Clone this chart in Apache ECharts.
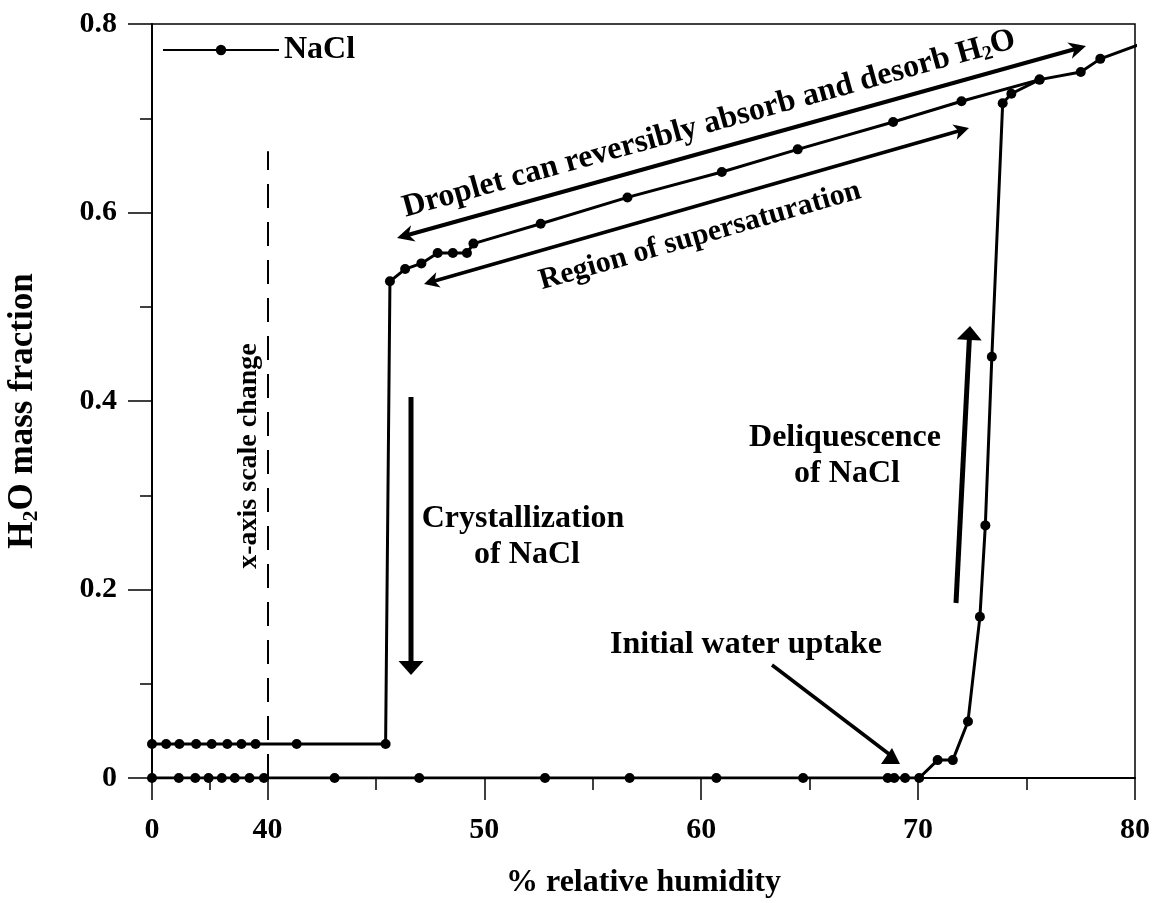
<!DOCTYPE html>
<html>
<head>
<meta charset="utf-8">
<script src="https://cdn.jsdelivr.net/npm/echarts@6/dist/echarts.min.js"></script>
<style>html,body{margin:0;padding:0;background:#fff}#c{width:1168px;height:903px}</style>
</head>
<body>
<div id="c"></div>
<script>
// ---- data ----
// Deliquescence branch (increasing RH)
const deliqRH  = [0, 9.3, 15.0, 19.6, 24.2, 28.7, 33.8, 38.8, 43.1, 47.0, 52.8, 56.7, 60.7, 64.7, 68.6, 68.9, 69.4, 70.05, 70.9, 71.6, 72.3, 72.85, 73.1, 73.4, 73.9, 74.3, 75.6, 77.5, 78.4, 81.0];
const deliqH2O = [0, 0, 0, 0, 0, 0, 0, 0, 0, 0, 0, 0, 0, 0, 0, 0, 0, 0, 0.019, 0.019, 0.060, 0.171, 0.268, 0.447, 0.716, 0.726, 0.741, 0.749, 0.763, 0.785];
// Efflorescence branch (decreasing RH)
const efflRH  = [75.6, 72.0, 68.85, 64.45, 60.95, 56.6, 52.6, 49.5, 49.2, 48.55, 47.85, 47.1, 46.35, 45.65, 45.45, 41.35, 35.9, 31.0, 26.1, 20.7, 15.3, 9.5, 4.9, 0];
const efflH2O = [0.741, 0.718, 0.696, 0.667, 0.643, 0.616, 0.588, 0.567, 0.557, 0.557, 0.557, 0.546, 0.540, 0.527, 0.036, 0.036, 0.036, 0.036, 0.036, 0.036, 0.036, 0.036, 0.036, 0.036];
const seriesName = 'NaCl';
const xMajorTicks = [0, 40, 50, 60, 70, 80];
const xMinorTicks = [20, 45, 55, 65, 75];
const yMin = 0, yMax = 0.8, yInterval = 0.2;
const scaleChangeRH = 40;
const scaleChangeTop = 0.665;

// ---- piecewise x scale: 0-40 compressed, 40-80 linear ----
const LOW_SPAN = 5.32;
function toAxis(rh) { return rh <= scaleChangeRH ? rh * LOW_SPAN / scaleChangeRH : LOW_SPAN + (rh - scaleChangeRH); }
const X_MIN = toAxis(0), X_MAX = toAxis(80);

const FONT = "'Liberation Serif','Times New Roman',serif";
const chart = echarts.init(document.getElementById('c'), null, {renderer: 'canvas'});

function seriesData(xs, ys) { return xs.map((r, i) => [toAxis(r), ys[i]]); }
const lineSeries = (data, extra) => Object.assign({
  name: seriesName, type: 'line', data: data,
  symbol: 'circle', symbolSize: 10, showAllSymbol: true,
  lineStyle: {color: '#000', width: 3}, itemStyle: {color: '#000'},
  clip: true, animation: false, emphasis: {disabled: true}
}, extra || {});

// ---- annotation helpers ----
function head(tx, ty, ux, uy, L, W, notch) {
  const px = -uy, py = ux;
  const bx = tx - ux * L, by = ty - uy * L;
  const nx = tx - ux * (L - notch), ny = ty - uy * (L - notch);
  return {type: 'polygon', shape: {points: [[tx, ty], [bx + px * W, by + py * W], [nx, ny], [bx - px * W, by - py * W]]}, style: {fill: '#000'}};
}
function arrow(x1, y1, x2, y2, o) {
  const dx = x2 - x1, dy = y2 - y1, len = Math.hypot(dx, dy), ux = dx / len, uy = dy / len;
  const els = [];
  let sx = x1, sy = y1, ex = x2, ey = y2;
  if (o.end) { ex = x2 - ux * o.L * 0.6; ey = y2 - uy * o.L * 0.6; els.push(head(x2, y2, ux, uy, o.L, o.W, o.notch || 0)); }
  if (o.start) { sx = x1 + ux * o.L * 0.6; sy = y1 + uy * o.L * 0.6; els.push(head(x1, y1, -ux, -uy, o.L, o.W, o.notch || 0)); }
  els.unshift({type: 'line', shape: {x1: sx, y1: sy, x2: ex, y2: ey}, style: {stroke: '#000', lineWidth: o.w}});
  return els;
}
function label(text, x, y, size, rot, rich) {
  return {type: 'text', x: x, y: y, rotation: rot || 0, z: 10,
    style: {text: text, fontFamily: FONT, fontWeight: 'bold', fontSize: size, fill: '#000',
      align: 'center', verticalAlign: 'middle', textAlign: 'center', textVerticalAlign: 'middle', rich: rich || {}}};
}
const subRich = (size) => ({
  n: {fontFamily: FONT, fontWeight: 'bold', fontSize: size, fill: '#000', color: '#000'},
  s: {fontFamily: FONT, fontWeight: 'bold', fontSize: Math.round(size * 0.62), fill: '#000', color: '#000', padding: [Math.round(size * 0.45), 0, 0, 0]}
});

const graphics = [].concat(
  arrow(397, 238, 1086, 46, {w: 4, L: 17, W: 8.5, notch: 5, start: true, end: true}),
  arrow(424, 284, 969, 128, {w: 3.5, L: 15, W: 8, notch: 4, start: true, end: true}),
  arrow(411, 397, 411, 675, {w: 5, L: 14, W: 12.5, end: true}),
  arrow(956, 603, 970, 326, {w: 5, L: 14, W: 12.5, end: true}),
  [{type: 'line', shape: {x1: 772, y1: 665, x2: 889, y2: 754}, style: {stroke: '#000', lineWidth: 3.5}},
   {type: 'polygon', shape: {points: [[892, 748], [881, 764], [900, 764]]}, style: {fill: '#000'}}],
  [
    label('{n|Droplet can reversibly absorb and desorb H}{s|2}{n|O}', 709, 124, 32, 0.2705, subRich(32)),
    label('Region of supersaturation', 700, 236, 30, 0.279),
    label('Crystallization', 523, 519, 32),
    label('of NaCl', 527, 555, 32),
    label('Deliquescence', 845, 438, 32),
    label('of NaCl', 847, 474, 32),
    label('Initial water uptake', 746, 645, 32),
    label('x-axis scale change', 249, 456, 28, Math.PI / 2)
  ]
);

const option = {
  backgroundColor: '#fff',
  animation: false,
  grid: {left: 152, right: 33, top: 24, bottom: 125, show: true, borderColor: '#000', borderWidth: 1.5, containLabel: false, outerBoundsMode: 'none'},
  legend: {
    data: [seriesName], left: 162, top: 34, padding: 0,
    itemWidth: 116, itemHeight: 13,
    textStyle: {fontFamily: FONT, fontWeight: 'bold', fontSize: 32, color: '#000'}
  },
  xAxis: [{
    type: 'value', min: X_MIN, max: X_MAX, position: 'bottom',
    name: '% relative humidity', nameLocation: 'middle', nameGap: 89,
    nameTextStyle: {fontFamily: FONT, fontWeight: 'bold', fontSize: 32, color: '#000'},
    axisLine: {show: true, onZero: false, lineStyle: {color: '#000', width: 2}},
    axisTick: {show: true, length: 22, customValues: xMajorTicks.map(toAxis), lineStyle: {color: '#000', width: 1.5}},
    axisLabel: {show: true, margin: 37, customValues: xMajorTicks.map(toAxis),
      formatter: v => { const t = xMajorTicks.find(k => Math.abs(toAxis(k) - v) < 1e-6); return t === undefined ? '' : String(t); },
      fontFamily: FONT, fontWeight: 'bold', fontSize: 30, color: '#000'},
    splitLine: {show: false}
  }, {
    type: 'value', min: X_MIN, max: X_MAX, position: 'bottom', offset: 0,
    axisLine: {show: false, onZero: false},
    axisTick: {show: true, length: 12, customValues: xMinorTicks.map(toAxis), lineStyle: {color: '#000', width: 1.5}},
    axisLabel: {show: false},
    splitLine: {show: false}
  }],
  yAxis: {
    type: 'value', min: yMin, max: yMax, interval: yInterval,
    name: '{n|H}{s|2}{n|O mass fraction}', nameLocation: 'middle', nameGap: 110,
    nameTextStyle: {rich: subRich(35), padding: [0, 20, 0, 0]},
    axisLine: {show: true, onZero: false, lineStyle: {color: '#000', width: 2}},
    axisTick: {show: true, length: 24, lineStyle: {color: '#000', width: 1.5}},
    minorTick: {show: true, splitNumber: 2, length: 12, lineStyle: {color: '#000', width: 1.5}},
    axisLabel: {margin: 35, formatter: v => (v === 0 ? '0' : v.toFixed(1)),
      fontFamily: FONT, fontWeight: 'bold', fontSize: 30, color: '#000'},
    splitLine: {show: false}, minorSplitLine: {show: false}
  },
  series: [
    lineSeries(seriesData(deliqRH, deliqH2O), {
      markLine: {silent: true, symbol: 'none', animation: false, label: {show: false},
        lineStyle: {type: [24, 14], color: '#000', width: 2},
        emphasis: {disabled: true},
        data: [[{coord: [toAxis(scaleChangeRH), 0]}, {coord: [toAxis(scaleChangeRH), scaleChangeTop]}]]}
    }),
    lineSeries(seriesData(efflRH, efflH2O))
  ],
  graphic: graphics
};
chart.setOption(option);
</script>
</body>
</html>
